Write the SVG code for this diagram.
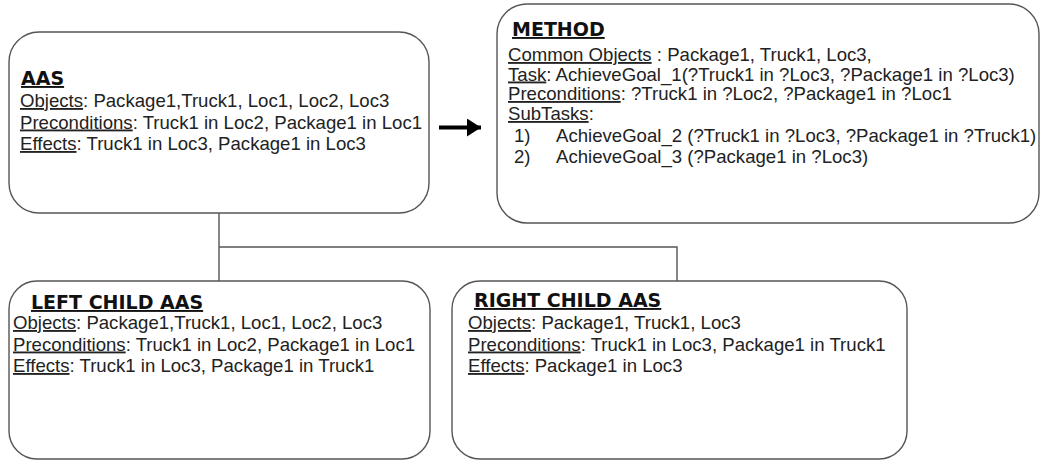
<svg xmlns="http://www.w3.org/2000/svg" width="1041" height="460" viewBox="0 0 1041 460">
<style>
.box{fill:#fff;stroke:#555;stroke-width:1.4}
.t{font-family:"DejaVu Sans",sans-serif;font-weight:bold;font-size:19px;fill:#111;text-decoration:underline}
.b{font-family:"Liberation Sans",Arial,sans-serif;font-size:18.6px;fill:#222}
.u{text-decoration:underline}
.conn{fill:none;stroke:#555;stroke-width:1.4}
</style>
<defs>
<marker id="ah" viewBox="0 0 14 18" refX="14" refY="9" markerWidth="14" markerHeight="18" markerUnits="userSpaceOnUse" orient="auto">
<path d="M0 0 L14 9 L0 18 Z" fill="#000"/>
</marker>
</defs>
<rect width="1041" height="460" fill="#fff"/>
<g id="connectors">
<path class="conn" d="M219 213 V281 M219 247 H677 V281"/>
<line x1="439" y1="127.5" x2="481" y2="127.5" stroke="#000" stroke-width="4" marker-end="url(#ah)"/>
</g>
<g id="aas">
<rect class="box" x="9" y="32" width="420" height="181" rx="30"/>
<text class="t" x="21" y="85">AAS</text>
<text class="b" x="20" y="107"><tspan class="u">Objects</tspan>: Package1,Truck1, Loc1, Loc2, Loc3</text>
<text class="b" x="20" y="128.5"><tspan class="u">Preconditions</tspan>: Truck1 in Loc2, Package1 in Loc1</text>
<text class="b" x="20" y="150"><tspan class="u">Effects</tspan>: Truck1 in Loc3, Package1 in Loc3</text>
</g>
<g id="method">
<rect class="box" x="497" y="4" width="542" height="219" rx="30"/>
<text class="t" x="512" y="36">METHOD</text>
<text class="b" x="508" y="61"><tspan class="u">Common Objects</tspan> : Package1, Truck1, Loc3,</text>
<text class="b" x="508" y="80.5"><tspan class="u">Task</tspan>: AchieveGoal_1(?Truck1 in ?Loc3, ?Package1 in ?Loc3)</text>
<text class="b" x="508" y="100"><tspan class="u">Preconditions</tspan>: ?Truck1 in ?Loc2, ?Package1 in ?Loc1</text>
<text class="b" x="508" y="120"><tspan class="u">SubTasks</tspan>:</text>
<text class="b" x="514" y="142">1)</text>
<text class="b" x="556" y="142">AchieveGoal_2 (?Truck1 in ?Loc3, ?Package1 in ?Truck1)</text>
<text class="b" x="514" y="163">2)</text>
<text class="b" x="556" y="163">AchieveGoal_3 (?Package1 in ?Loc3)</text>
</g>
<g id="left-child">
<rect class="box" x="9" y="281" width="421" height="178" rx="28"/>
<text class="t" x="31" y="309">LEFT CHILD AAS</text>
<text class="b" x="13" y="329"><tspan class="u">Objects</tspan>: Package1,Truck1, Loc1, Loc2, Loc3</text>
<text class="b" x="13" y="350.5"><tspan class="u">Preconditions</tspan>: Truck1 in Loc2, Package1 in Loc1</text>
<text class="b" x="13" y="372"><tspan class="u">Effects</tspan>: Truck1 in Loc3, Package1 in Truck1</text>
</g>
<g id="right-child">
<rect class="box" x="452" y="281" width="455" height="178" rx="28"/>
<text class="t" x="474" y="307">RIGHT CHILD AAS</text>
<text class="b" x="468" y="329"><tspan class="u">Objects</tspan>: Package1, Truck1, Loc3</text>
<text class="b" x="468" y="350.5"><tspan class="u">Preconditions</tspan>: Truck1 in Loc3, Package1 in Truck1</text>
<text class="b" x="468" y="372"><tspan class="u">Effects</tspan>:<tspan dx="5">Package1 in Loc3</tspan></text>
</g>
</svg>
